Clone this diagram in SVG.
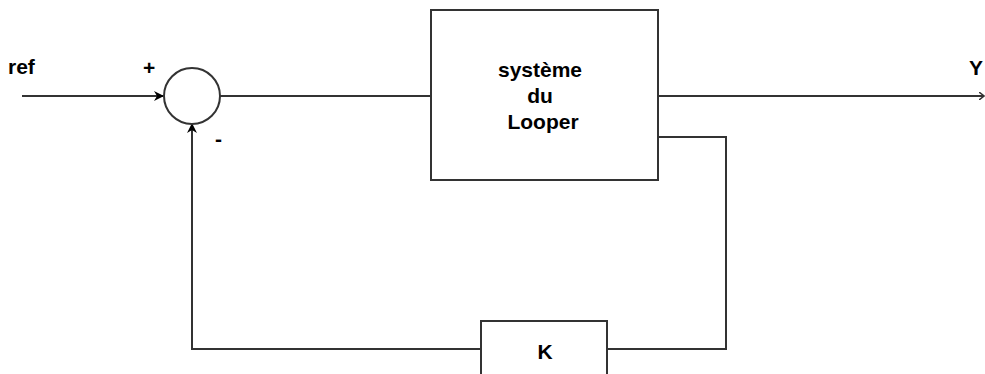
<svg xmlns="http://www.w3.org/2000/svg" width="985" height="374" viewBox="0 0 985 374">
<style>
.ln{fill:none;stroke:#333;stroke-width:2}
.bx{fill:#fff;stroke:#333;stroke-width:2}
.t{font-family:"Liberation Sans",Arial,sans-serif;font-weight:bold;font-size:21px;fill:#000}
</style>
<defs>
<marker id="ar" markerWidth="10" markerHeight="10" refX="9" refY="5" orient="auto" markerUnits="userSpaceOnUse">
<path d="M0,0 L10,5 L0,10 L3,5 Z" fill="#000"/>
</marker>
<marker id="ar2" markerWidth="6" markerHeight="8" refX="5" refY="4" orient="auto" markerUnits="userSpaceOnUse">
<path d="M0,0 L5,4 L0,8" fill="none" stroke="#333" stroke-width="1.5"/>
</marker>
</defs>
<rect width="985" height="374" fill="#fff"/>
<g id="connectors">
<line class="ln" x1="22" y1="96" x2="163" y2="96" marker-end="url(#ar)"/>
<line class="ln" x1="220" y1="96" x2="431" y2="96"/>
<line class="ln" x1="658" y1="96" x2="984" y2="96" marker-end="url(#ar2)"/>
<polyline class="ln" points="658,137 726,137 726,349 607,349"/>
<polyline class="ln" points="481,349 192,349 192,124" marker-end="url(#ar)"/>
</g>
<g id="sum">
<circle class="bx" cx="192" cy="96" r="28"/>
</g>
<g id="systeme">
<rect class="bx" x="431" y="10" width="227" height="170"/>
<text class="t" x="540" y="77" text-anchor="middle">système</text>
<text class="t" x="540" y="103" text-anchor="middle">du</text>
<text class="t" x="543" y="129" text-anchor="middle">Looper</text>
</g>
<g id="K">
<rect class="bx" x="481" y="321" width="126" height="60"/>
<text class="t" x="545" y="359" text-anchor="middle">K</text>
</g>
<g id="labels">
<text class="t" x="8" y="74">ref</text>
<text class="t" x="143" y="75">+</text>
<text class="t" x="215" y="146">-</text>
<text class="t" x="969" y="75">Y</text>
</g>
</svg>
